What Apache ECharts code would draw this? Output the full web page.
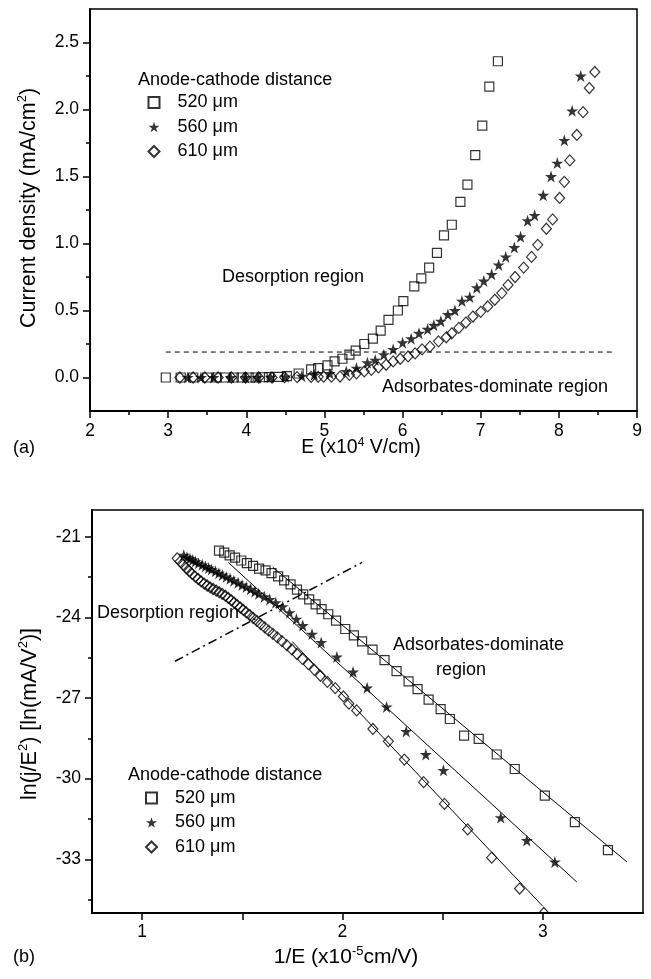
<!DOCTYPE html>
<html><head><meta charset="utf-8">
<script src="https://cdn.jsdelivr.net/npm/echarts@6/dist/echarts.min.js"></script>
<style>html,body{margin:0;padding:0;background:#fff}#c{width:651px;height:979px}</style>
</head><body><div id="c"></div>
<script>
// ---------- panel (a): J vs E ----------
const aE520 = [2.97,3.16,3.32,3.50,3.62,3.73,3.84,3.94,4.03,4.12,4.21,4.29,4.41,4.52,4.67,4.83,4.92,5.04,5.13,5.23,5.32,5.40,5.51,5.62,5.72,5.82,5.94,6.01,6.15,6.24,6.34,6.44,6.53,6.63,6.74,6.83,6.93,7.02,7.11,7.22];
const aJ520 = [0,0,0,0,0,0,0,0,0,0,0.002,0.003,0.005,0.01,0.03,0.06,0.07,0.09,0.12,0.14,0.17,0.20,0.25,0.29,0.35,0.43,0.50,0.57,0.68,0.74,0.82,0.93,1.06,1.14,1.31,1.44,1.66,1.88,2.17,2.36];
const aE560 = [3.25,3.42,3.58,3.80,3.99,4.14,4.31,4.50,4.71,4.87,5.07,5.28,5.41,5.55,5.65,5.76,5.88,6.00,6.11,6.21,6.32,6.40,6.49,6.58,6.67,6.76,6.86,6.95,7.04,7.14,7.23,7.32,7.43,7.51,7.60,7.69,7.80,7.90,7.98,8.07,8.17,8.28];
const aJ560 = [0,0,0,0,0,0,0.003,0.005,0.01,0.02,0.03,0.045,0.07,0.11,0.13,0.17,0.21,0.26,0.29,0.33,0.36,0.39,0.42,0.47,0.50,0.57,0.60,0.67,0.72,0.77,0.84,0.90,0.97,1.05,1.17,1.21,1.36,1.50,1.60,1.77,1.99,2.25];
const aE610 = [3.15,3.32,3.47,3.64,3.81,3.99,4.16,4.33,4.49,4.65,4.83,4.92,4.99,5.09,5.20,5.32,5.41,5.51,5.60,5.69,5.79,5.88,5.97,6.07,6.16,6.25,6.35,6.46,6.56,6.63,6.72,6.81,6.90,7.00,7.09,7.18,7.27,7.35,7.44,7.55,7.65,7.73,7.84,7.92,8.01,8.07,8.14,8.23,8.31,8.39,8.46];
const aJ610 = [0,0,0,0,0,0,0,0,0.002,0.003,0.004,0.005,0.006,0.006,0.007,0.02,0.03,0.045,0.057,0.075,0.095,0.12,0.14,0.157,0.18,0.21,0.23,0.27,0.30,0.33,0.37,0.41,0.455,0.49,0.53,0.58,0.63,0.69,0.75,0.82,0.90,0.99,1.11,1.18,1.34,1.46,1.62,1.81,1.98,2.16,2.28];
const aDashE = [2.97, 8.72];
const aDashJ = [0.19, 0.19];
const aXTicks = [2,3,4,5,6,7,8,9];
const aYLabels = [0,0.5,1,1.5,2,2.5];
const aYMinor = [0.25,0.75,1.25,1.75,2.25];

// ---------- panel (b): FN plot ----------
const b520X = [1.384,1.41,1.437,1.464,1.495,1.523,1.554,1.584,1.616,1.646,1.679,1.709,1.741,1.773,1.804,1.834,1.866,1.896,1.929,1.968,2.014,2.057,2.098,2.15,2.21,2.27,2.33,2.375,2.43,2.49,2.536,2.607,2.68,2.77,2.86,3.01,3.16,3.325];
const b520Y = [-21.51,-21.59,-21.69,-21.77,-21.88,-21.98,-22.08,-22.18,-22.25,-22.35,-22.47,-22.62,-22.77,-22.96,-23.14,-23.33,-23.51,-23.69,-23.88,-24.12,-24.43,-24.67,-24.89,-25.20,-25.59,-26.00,-26.38,-26.67,-27.06,-27.41,-27.78,-28.40,-28.52,-29.10,-29.64,-30.63,-31.62,-32.66];
const b560X = [1.208,1.224,1.239,1.253,1.266,1.282,1.300,1.316,1.332,1.346,1.366,1.383,1.401,1.420,1.439,1.458,1.479,1.499,1.520,1.541,1.563,1.582,1.610,1.637,1.667,1.701,1.736,1.770,1.802,1.848,1.894,1.972,2.053,2.123,2.22,2.318,2.416,2.504,2.79,2.92,3.06];
const b560Y = [-21.68,-21.76,-21.81,-21.86,-21.92,-21.98,-22.04,-22.10,-22.16,-22.21,-22.28,-22.35,-22.42,-22.49,-22.56,-22.63,-22.71,-22.79,-22.87,-22.95,-23.04,-23.12,-23.23,-23.33,-23.45,-23.60,-23.82,-24.06,-24.30,-24.62,-24.93,-25.47,-26.03,-26.62,-27.33,-28.24,-29.10,-29.69,-31.45,-32.30,-33.10];
const b610X = [1.175,1.19,1.205,1.22,1.235,1.25,1.265,1.28,1.295,1.31,1.325,1.34,1.355,1.37,1.385,1.40,1.415,1.43,1.445,1.46,1.475,1.49,1.505,1.52,1.537,1.555,1.573,1.592,1.612,1.632,1.653,1.675,1.698,1.722,1.747,1.773,1.80,1.83,1.86,1.89,1.925,1.964,2.005,2.032,2.071,2.152,2.229,2.309,2.405,2.509,2.625,2.745,2.884,3.005];
const b610Y = [-21.80,-21.92,-22.04,-22.16,-22.27,-22.38,-22.48,-22.57,-22.66,-22.74,-22.81,-22.88,-22.94,-23.00,-23.06,-23.12,-23.19,-23.27,-23.36,-23.45,-23.54,-23.63,-23.72,-23.81,-23.91,-24.02,-24.13,-24.25,-24.37,-24.49,-24.61,-24.74,-24.88,-25.03,-25.19,-25.36,-25.54,-25.74,-25.95,-26.17,-26.40,-26.63,-26.94,-27.21,-27.46,-28.15,-28.61,-29.29,-30.13,-30.94,-31.89,-32.94,-34.09,-35.0];
const fit520X = [1.652, 3.42],  fit520Y = [-22.13, -33.10];
const fit560X = [1.43, 3.17],   fit560Y = [-21.95, -33.85];
const fit610X = [1.75, 3.0],    fit610Y = [-24.9, -34.75];
const bDashX = [1.164, 2.098],  bDashY = [-25.63, -21.95];
const bXTicks = [1,1.5,2,2.5,3];
const bXLabels = [1,2,3];
const bYLabels = [-21,-24,-27,-30,-33];
const bYMinor = [-22.5,-25.5,-28.5,-31.5,-34.5];

const names = ['520 μm','560 μm','610 μm'];

// ---------- styles ----------
const FONT = 'Liberation Sans, Arial, Helvetica, sans-serif';
const K = '#000';
const TXT = 18, XTITLE = 19.5, YTITLE = 21.5, TICK = 17.5;
const pairs = (xs, ys) => xs.map((x, i) => [x, ys[i]]);
const STAR = 'path://M50,0L61.8,36.2L100,36.2L69.1,58.6L80.9,95.1L50,72.7L19.1,95.1L30.9,58.6L0,36.2L38.2,36.2Z';
const hollow = {color: 'rgba(255,255,255,0)', borderColor: K, borderWidth: 1.2};
const solid = {color: K, borderWidth: 0};
const axisLine = {onZero: false, lineStyle: {color: K, width: 2}};
const lab = {color: K, fontSize: TICK, fontFamily: FONT};

function xAx(grid, min, max, extra) {
  return Object.assign({gridIndex: grid, type: 'value', min, max, z: 10,
    axisLine, splitLine: {show: false}, minorSplitLine: {show: false}}, extra);
}
function yAx(grid, min, max, extra) {
  return Object.assign({gridIndex: grid, type: 'value', min, max, position: 'left', z: 10,
    axisLine, splitLine: {show: false}, minorSplitLine: {show: false}}, extra);
}

function scatter(name, x, y, xi, yi, kind) {
  const s = {type: 'scatter', name, xAxisIndex: xi, yAxisIndex: yi, data: pairs(x, y), clip: true, z: 2};
  if (kind === 'sq') { s.symbol = 'rect'; s.symbolSize = 9; s.itemStyle = hollow; }
  if (kind === 'st') { s.symbol = STAR; s.symbolSize = 12; s.itemStyle = solid; }
  if (kind === 'di') { s.symbol = 'diamond'; s.symbolSize = [10, 11]; s.itemStyle = hollow; }
  return s;
}
function line(x, y, xi, yi, type, width) {
  return {type: 'line', xAxisIndex: xi, yAxisIndex: yi, data: pairs(x, y), symbol: 'none', silent: true, z: 3,
    lineStyle: {color: K, width, type}};
}

function txt(text, x, y, align, size, rot) {
  const fs = size || TXT;
  return {type: 'text', x, y, rotation: rot || 0, z: 20,
    style: {text, fill: K, font: fs + 'px ' + FONT, fontSize: fs, fontFamily: FONT,
      lineHeight: fs + 4, textAlign: align || 'left', align: align || 'left',
      textVerticalAlign: 'middle', verticalAlign: 'middle',
      rich: {s: {fontSize: Math.round(fs * 0.62), fontFamily: FONT, fill: K, lineHeight: 12, verticalAlign: 'top'}}}};
}

const legendBase = {orient: 'vertical', padding: 0, itemWidth: 11, itemHeight: 11, itemGap: 5.5, selectedMode: false,
  data: names, textStyle: {fontSize: TXT, fontFamily: FONT, color: K, lineHeight: 19, padding: [0, 0, 0, 13]}};

const chart = echarts.init(document.getElementById('c'), null, {renderer: 'canvas'});
const option = {
  animation: false,
  backgroundColor: '#fff',
  grid: [
    {left: 90, top: 9, width: 547, height: 402, show: true, borderColor: K, borderWidth: 1.5, backgroundColor: 'transparent'},
    {left: 92, top: 510, width: 551, height: 403, show: true, borderColor: K, borderWidth: 1.5, backgroundColor: 'transparent'}
  ],
  xAxis: [
    xAx(0, 2, 9, {interval: 1,
      axisTick: {length: 7, lineStyle: {color: K, width: 1.5}},
      minorTick: {show: true, splitNumber: 2, length: 4, lineStyle: {color: K, width: 1.5}},
      axisLabel: Object.assign({margin: 11, customValues: aXTicks}, lab)}),
    xAx(1, 0.75, 3.5, {
      axisTick: {length: 7, customValues: bXTicks, lineStyle: {color: K, width: 1.5}},
      axisLabel: Object.assign({margin: 10, customValues: bXLabels}, lab)})
  ],
  yAxis: [
    yAx(0, -0.25, 2.75, {
      axisTick: {length: 7, customValues: aYLabels, lineStyle: {color: K, width: 1.5}},
      axisLabel: Object.assign({margin: 11, customValues: aYLabels, formatter: v => Number(v).toFixed(1)}, lab)}),
    yAx(0, -0.25, 2.75, {axisLine: {show: false},
      axisTick: {length: 4, customValues: aYMinor, lineStyle: {color: K, width: 1.5}},
      axisLabel: {show: false}}),
    yAx(1, -35, -20, {
      axisTick: {length: 7, customValues: bYLabels, lineStyle: {color: K, width: 1.5}},
      axisLabel: Object.assign({margin: 11, customValues: bYLabels}, lab)}),
    yAx(1, -35, -20, {axisLine: {show: false},
      axisTick: {length: 4, customValues: bYMinor, lineStyle: {color: K, width: 1.5}},
      axisLabel: {show: false}})
  ],
  legend: [
    Object.assign({left: 147.5, top: 93}, legendBase),
    Object.assign({left: 145, top: 788.5}, legendBase)
  ],
  series: [
    scatter(names[0], aE520, aJ520, 0, 0, 'sq'),
    scatter(names[1], aE560, aJ560, 0, 0, 'st'),
    scatter(names[2], aE610, aJ610, 0, 0, 'di'),
    line(aDashE, aDashJ, 0, 0, [5, 4], 1),
    scatter(names[0], b520X, b520Y, 1, 2, 'sq'),
    scatter(names[1], b560X, b560Y, 1, 2, 'st'),
    scatter(names[2], b610X, b610Y, 1, 2, 'di'),
    line(fit520X, fit520Y, 1, 2, 'solid', 1),
    line(fit560X, fit560Y, 1, 2, 'solid', 1),
    line(fit610X, fit610Y, 1, 2, 'solid', 1),
    line(bDashX, bDashY, 1, 2, [9, 4, 2, 4], 1.5)
  ],
  graphic: [
    txt('Anode-cathode distance', 138, 80),
    txt('Desorption region', 222, 277),
    txt('Adsorbates-dominate region', 382, 387),
    txt('(a)', 13, 448),
    txt('E (x10{s|4} V/cm)', 361, 448, 'center', XTITLE),
    txt('Current density (mA/cm{s|2})', 29, 208, 'center', YTITLE, Math.PI / 2),
    txt('Desorption region', 97, 613),
    txt('Adsorbates-dominate', 393, 645),
    txt('region', 461, 670, 'center'),
    txt('Anode-cathode distance', 128, 775),
    txt('(b)', 13, 957),
    txt('1/E (x10{s|-5}cm/V)', 346, 957, 'center', 21),
    txt('ln(j/E{s|2}) [ln(mA/V{s|2})]', 30, 714, 'center', YTITLE, Math.PI / 2)
  ]
};
chart.setOption(option);

// white mask just below panel (b)'s bottom axis, so a marker sitting on the axis shows only its upper half
const p0 = chart.convertToPixel({gridIndex: 1}, [0.75, -35]);
const p1 = chart.convertToPixel({gridIndex: 1}, [3.5, -35]);
option.graphic.push({type: 'rect', z: 5, silent: true,
  shape: {x: p0[0] + 2, y: p0[1] + 1, width: p1[0] - p0[0] - 4, height: 8}, style: {fill: '#fff'}});
chart.setOption({graphic: option.graphic});
</script>
</body></html>
